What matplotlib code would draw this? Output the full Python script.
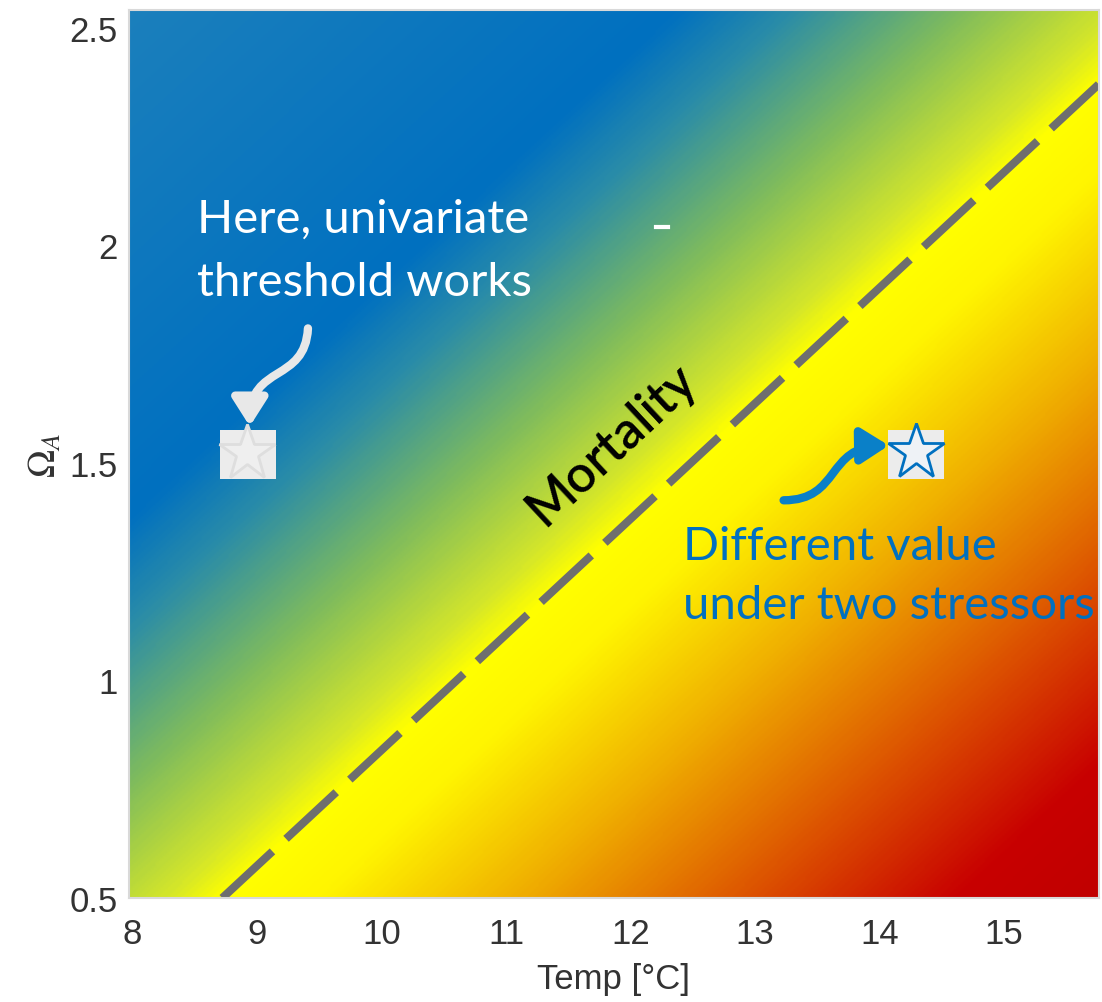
import numpy as np
import matplotlib
matplotlib.use("Agg")
import matplotlib.pyplot as plt
from matplotlib.colors import LinearSegmentedColormap
from matplotlib.patches import Rectangle, FancyArrowPatch
from matplotlib.path import Path

plt.rcParams['mathtext.fontset'] = 'stix'

# axis ranges and ticks
x_lim = [7.97, 15.76]
y_lim = [0.5, 2.54]
x_ticks = [8, 9, 10, 11, 12, 13, 14, 15]
y_ticks = [0.5, 1, 1.5, 2, 2.5]
y_ticklabels = ["0.5", "1", "1.5", "2", "2.5"]

# mortality threshold line (Temp, Omega_A)
line_T = [8.72, 15.76]
line_O = [0.5, 2.37]

# background gradient: offset from threshold line -> colour
stop_pos = [-1.10, -0.52, -0.40, -0.22, -0.06, 0.0, 0.10, 0.30, 0.55, 0.76, 0.92]
stop_col = ["#1c80bc", "#0070c0", "#2a8ca8", "#80bc5c", "#d4e62a", "#ffff00",
            "#fff500", "#f0b000", "#dc5000", "#c80000", "#c00000"]

# star markers (boxes behind them)
star_T = [8.92, 14.29]
star_O = [1.522, 1.526]
box_T = [8.70, 14.07]
box_O = [1.464, 1.464]

# curved arrows: start, ctrl1, ctrl2, end
arrow1 = [(9.408, 1.809), (9.384, 1.683), (8.941, 1.728), (8.941, 1.584)]
arrow2 = [(13.229, 1.414), (13.688, 1.414), (13.567, 1.538), (14.074, 1.540)]

fig = plt.figure(figsize=(11.02, 10.03), dpi=100)
ax = fig.add_axes([0.117, 0.1037, 0.880, 0.885])

# gradient field relative to the line, in axes fraction
T = np.linspace(x_lim[0], x_lim[1], 400)
O = np.linspace(y_lim[0], y_lim[1], 400)
TT, OO = np.meshgrid(T, O)
u = (TT - x_lim[0]) / (x_lim[1] - x_lim[0])
v = (OO - y_lim[0]) / (y_lim[1] - y_lim[0])
ua = (line_T[0] - x_lim[0]) / (x_lim[1] - x_lim[0])
vb = (line_O[1] - y_lim[0]) / (y_lim[1] - y_lim[0])
s = u - ua - v * (1 - ua) / vb

lo, hi = stop_pos[0], stop_pos[-1]
cmap = LinearSegmentedColormap.from_list(
    "stress", [((p - lo) / (hi - lo), c) for p, c in zip(stop_pos, stop_col)])
ax.imshow(s, extent=[x_lim[0], x_lim[1], y_lim[0], y_lim[1]], origin="lower",
          aspect="auto", cmap=cmap, vmin=lo, vmax=hi, interpolation="bilinear")

ax.plot(line_T, line_O, color="#6e6e6e", lw=5.8, dashes=(8.5, 2.3),
        solid_capstyle="butt", dash_capstyle="butt")

# boxes and stars
for bt, bo in zip(box_T, box_O):
    ax.add_patch(Rectangle((bt, bo), 0.45, 0.1125, facecolor="#ececec",
                           edgecolor="none", zorder=3))
ax.plot(star_T[0], star_O[0], marker="*", ms=42, mfc="#efefef", mec="#dedede",
        mew=2, zorder=4)
ax.plot(star_T[1], star_O[1], marker="*", ms=42, mfc="#eef2f6", mec="#0070c0",
        mew=2, zorder=4)

codes = [Path.MOVETO, Path.CURVE4, Path.CURVE4, Path.CURVE4]
a1 = FancyArrowPatch(path=Path(arrow1, codes), arrowstyle="-|>,head_length=0.55,head_width=0.35",
                     mutation_scale=30, lw=6, color="#e8e8e8", zorder=5)
a2 = FancyArrowPatch(path=Path(arrow2, codes), arrowstyle="-|>,head_length=0.55,head_width=0.35",
                     mutation_scale=30, lw=6, color="#0a80c8", zorder=5)
ax.add_patch(a1)
ax.add_patch(a2)

# annotations
ax.text(8.52, 1.988, "Here, univariate\nthreshold works", color="white",
        family="Lato", fontsize=34, linespacing=1.62, va="center", ha="left")
ax.text(12.42, 1.242, "Different value\nunder two stressors", color="#0070c0",
        family="Lato", fontsize=34, linespacing=1.5, va="center", ha="left")
ax.text(11.85, 1.545, "Mortality", color="black", family="Lato", fontweight="semibold",
        fontsize=37, rotation=43, ha="center", va="center", rotation_mode="anchor")
ax.plot([12.20, 12.30], [2.043, 2.043], color="white", lw=3)

ax.set_xlim(x_lim)
ax.set_ylim(y_lim)
ax.set_xticks(x_ticks)
ax.set_yticks(y_ticks)
ax.set_yticklabels(y_ticklabels)
ax.tick_params(length=0, labelsize=25, labelcolor="#333333",
               labelfontfamily="Liberation Sans")
ax.tick_params(axis="x", pad=14)
ax.tick_params(axis="y", pad=8)
for sp in ax.spines.values():
    sp.set_color("#d9d9d9")
    sp.set_linewidth(1.5)

ax.set_xlabel("Temp [°C]", fontsize=25, color="#333333", family="Liberation Sans",
              labelpad=8)
ax.set_ylabel(r"$\Omega_A$", fontsize=27, color="#333333", labelpad=4)

fig.savefig("out.png", dpi=100)
